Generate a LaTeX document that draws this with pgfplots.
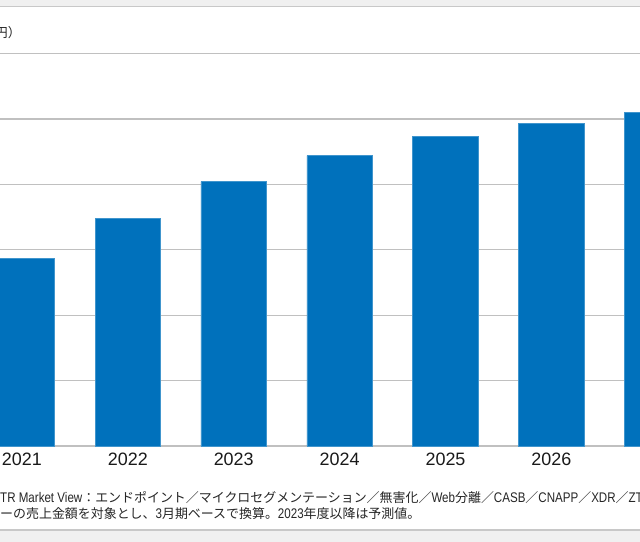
\documentclass[border=0pt]{standalone}
\usepackage{fontspec}
\setmainfont{Liberation Sans}
\newfontfamily\cjkfont{Noto Sans CJK JP}
\newfontfamily\latfont[FakeStretch=0.83]{Liberation Sans}
\usepackage{pgfplots}
\pgfplotsset{compat=1.18}
\definecolor{barblue}{RGB}{0,113,188}
\definecolor{gridgray}{RGB}{192,192,192}
\definecolor{bandgray}{RGB}{240,240,240}
\definecolor{linegray}{RGB}{200,200,200}
\newcommand{\jp}[1]{{\cjkfont\fontsize{13}{13}\selectfont #1}}
\newcommand{\la}[1]{{\latfont\fontsize{14}{14}\selectfont #1}}
\begin{document}
\begin{tikzpicture}[x=1bp,y=1bp]
\begin{scope}
\clip (0,0) rectangle (640,542);
\fill[white] (0,0) rectangle (640,542);
\fill[bandgray] (0,535.3) rectangle (640,542);
\draw[linegray, line width=1.2bp] (0,535.3) -- (640,535.3);
\fill[bandgray] (0,0) rectangle (640,12);
\draw[linegray, line width=1.2bp] (0,12) -- (640,12);
\node[anchor=base east, inner sep=0pt, text=black!85] at (21,504.5) {\jp{（単位：億円）}};
\begin{axis}[at={(0bp,96bp)}, anchor=south west, scale only axis,
  width=640bp, height=392.5bp,
  xmin=-0.2068, xmax=5.8366, ymin=0, ymax=600,
  ytick={0,100,...,600}, yticklabels={},
  ymajorgrids, grid style={gridgray, line width=1.3bp},
  axis line style={draw=none}, major tick length=0pt,
  xtick={0,1,2,3,4,5,6},
  xticklabels={2021,2022,2023,2024,2025,2026,2027},
  xticklabel style={anchor=base, inner sep=0pt, yshift=-20bp, font=\fontsize{18}{18}\selectfont, text=black!90},
  clip=false]
\addplot[ybar, bar width=65.5bp, fill=barblue, draw=barblue!75!white, line width=0.6bp]
  coordinates {(0,287) (1,348) (2,404) (3,444) (4,473) (5,493) (6,510)};
\end{axis}
\node[anchor=base west, inner sep=0pt, text=black!85] at (0,39) {\la{TR Market View}\jp{：エンドポイント／マイクロセグメンテーション／無害化／}\la{Web}\jp{分離／}\la{CASB}\jp{／}\la{CNAPP}\jp{／}\la{XDR}\jp{／}\la{ZTNA}\jp{／}};
\node[anchor=base west, inner sep=0pt, text=black!85] at (0,23) {\jp{ーの売上金額を対象とし、}\la{3}\jp{月期ベースで換算。}\la{2023}\jp{年度以降は予測値。}};
\end{scope}
\pgfresetboundingbox
\path[use as bounding box] (0,0) rectangle (640,542);
\end{tikzpicture}
\end{document}
